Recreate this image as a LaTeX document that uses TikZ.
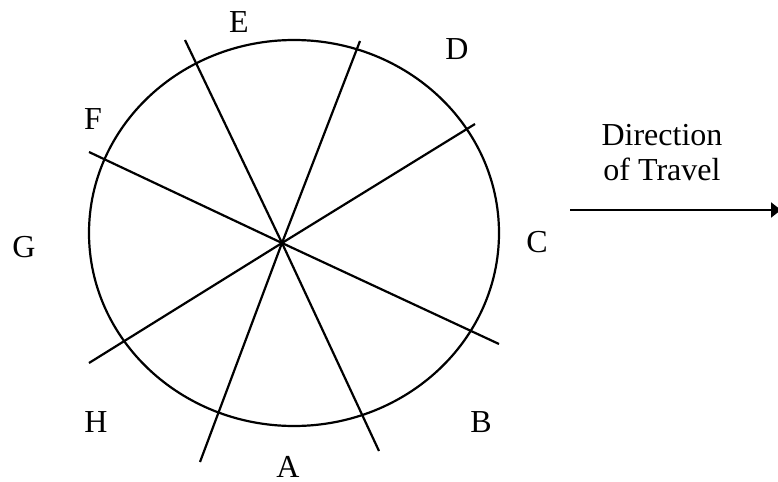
\documentclass[tikz,border=0pt]{standalone}
\usepackage{fontspec}
\setmainfont{Liberation Serif}
\usetikzlibrary{arrows.meta,positioning}

\begin{document}
\begin{tikzpicture}[
  x=0.5pt, y=-0.5pt,
  lbl/.style={font=\fontsize{16}{17.5}\selectfont, inner sep=0pt},
  spoke/.style={line width=1.1pt},
  travel/.style={-{Triangle[length=5pt, width=7.5pt]}, line width=1.1pt},
]
  \useasboundingbox (0,0) rectangle (778,482);
  % wheel
  \draw[line width=1.1pt] (294,233) ellipse [x radius=205, y radius=193];
  \coordinate (hub) at (282,243);
  \coordinate (eTop) at (185,40);   \coordinate (eBot) at (379,451);
  \coordinate (dTop) at (360,41);   \coordinate (dBot) at (200,462);
  \coordinate (fL) at (89,152);     \coordinate (fR) at (499,344);
  \coordinate (hL) at (89,363);     \coordinate (hR) at (475,124);
  \draw[spoke] (eTop) -- (hub) -- (eBot);
  \draw[spoke] (dTop) -- (hub) -- (dBot);
  \draw[spoke] (fL) -- (hub) -- (fR);
  \draw[spoke] (hL) -- (hub) -- (hR);
  % sector letters
  \node[lbl] (A) at (288,467) {A};
  \node[lbl] (B) at (481,422) {B};
  \node[lbl] (C) at (537,242) {C};
  \node[lbl] (D) at (457,49) {D};
  \node[lbl] (E) at (239,22) {E};
  \node[lbl] (F) at (93,119) {F};
  \node[lbl] (G) at (24,247) {G};
  \node[lbl] (H) at (96,422) {H};
  % travel arrow
  \node[lbl, align=center] (dir) at (662,153) {Direction\\of Travel};
  \coordinate (arrS) at (570,210);
  \coordinate (arrE) at (781,210);
  \draw[travel] (arrS) -- (arrE);
\end{tikzpicture}
\end{document}
